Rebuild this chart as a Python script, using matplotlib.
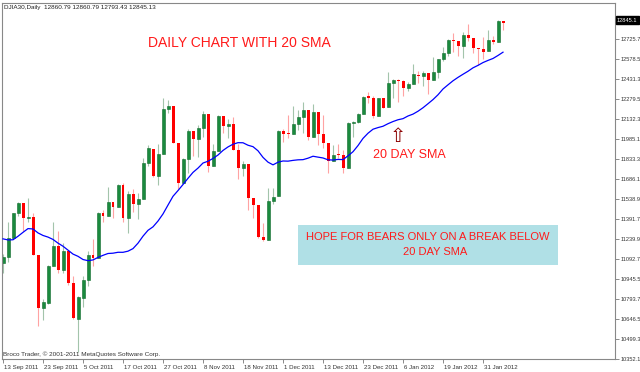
import numpy as np
import matplotlib
matplotlib.use('Agg')
import matplotlib.pyplot as plt
import matplotlib.transforms as mtransforms
from matplotlib.patches import Rectangle

plt.rcParams['font.family'] = ['Liberation Sans', 'DejaVu Sans']

# DJIA30 daily bars, 13 Sep 2011 - 6 Feb 2012
opens = [11061, 11106, 11247, 11433, 11509, 11401, 11409, 11120, 10733, 10771,
         11044, 11190, 11011, 11154, 10913, 10650, 10808, 10940, 11123, 11103,
         11433, 11416, 11518, 11478, 11644, 11397, 11577, 11505, 11542, 11809,
         11913, 11707, 11870, 12208, 12231, 11955, 11658, 11836, 12044, 11983,
         12068, 12169, 11781, 11894, 12153, 12079, 12096, 11906, 11771, 11796,
         11547, 11493, 11257, 11232, 11523, 11559, 12045, 12020, 12020, 12097,
         12150, 12196, 11998, 12184, 12021, 11954, 11823, 11868, 11866, 11769,
         12103, 12108, 12169, 12294, 12291, 12151, 12287, 12221, 12397, 12420,
         12415, 12360, 12393, 12462, 12449, 12471, 12422, 12482, 12579, 12624,
         12720, 12709, 12676, 12757, 12735, 12660, 12654, 12633, 12716, 12705,
         12860.79]
highs = [11130, 11370, 11436, 11520, 11510, 11550, 11436, 11125, 10800, 11050,
         11365, 11300, 11210, 11154, 10970, 10820, 10965, 11150, 11240, 11440,
         11460, 11630, 11520, 11650, 11660, 11600, 11610, 11580, 11840, 11940,
         11913, 11950, 12285, 12275, 12231, 11955, 11840, 12060, 12044, 12090,
         12190, 12169, 11950, 12160, 12153, 12130, 12150, 11950, 11820, 11796,
         11550, 11493, 11360, 11620, 11620, 12050, 12060, 12160, 12230, 12200,
         12260, 12196, 12240, 12184, 12160, 11954, 11940, 11950, 11900, 12110,
         12115, 12180, 12300, 12330, 12300, 12290, 12290, 12480, 12430, 12430,
         12420, 12410, 12540, 12490, 12490, 12471, 12590, 12580, 12670, 12725,
         12770, 12709, 12780, 12840, 12735, 12660, 12740, 12790, 12750, 12870,
         12860.79]
lows = [10990, 11070, 11240, 11410, 11300, 11370, 11120, 10597, 10640, 10760,
        11040, 10990, 10990, 10900, 10650, 10404, 10740, 10890, 11040, 11103,
        11370, 11416, 11400, 11478, 11370, 11290, 11440, 11390, 11542, 11780,
        11700, 11640, 11870, 12176, 11955, 11610, 11658, 11730, 11860, 11850,
        12000, 11740, 11781, 11894, 12030, 11990, 11900, 11690, 11710, 11460,
        11400, 11250, 11230, 11232, 11500, 11559, 11960, 11990, 12020, 12050,
        12030, 11980, 11998, 11940, 11920, 11730, 11823, 11840, 11735, 11769,
        12000, 12100, 12169, 12250, 12140, 12151, 12217, 12221, 12290, 12260,
        12300, 12340, 12393, 12400, 12380, 12320, 12422, 12440, 12560, 12600,
        12630, 12600, 12585, 12710, 12620, 12530, 12580, 12633, 12690, 12705,
        12793.43]
closes = [11105.85, 11246.73, 11433.18, 11509.09, 11401.01, 11408.66, 11124.84, 10733.83, 10771.48, 11043.86,
          11190.69, 11010.90, 11153.98, 10913.38, 10655.30, 10808.71, 10939.95, 11123.33, 11103.12, 11433.18,
          11416.30, 11518.85, 11478.13, 11644.49, 11397.00, 11577.05, 11504.62, 11541.78, 11808.79, 11913.62,
          11706.62, 11869.04, 12208.55, 12231.11, 11955.01, 11657.96, 11836.04, 12044.47, 11983.24, 12068.39,
          12170.18, 11780.94, 11893.86, 12153.68, 12078.98, 12096.16, 11905.59, 11770.73, 11796.16, 11547.31,
          11493.72, 11257.55, 11231.78, 11523.01, 11555.63, 12045.68, 12020.03, 12019.42, 12097.83, 12150.13,
          12196.37, 11997.70, 12184.26, 12021.39, 11954.94, 11823.48, 11868.81, 11866.39, 11766.26, 12103.58,
          12107.74, 12169.65, 12294.00, 12291.35, 12151.41, 12287.04, 12217.56, 12397.38, 12418.42, 12415.70,
          12359.92, 12392.69, 12462.47, 12449.45, 12471.02, 12422.06, 12482.07, 12578.95, 12623.98, 12720.48,
          12708.82, 12675.75, 12756.96, 12734.63, 12660.46, 12653.72, 12632.91, 12716.46, 12705.41, 12862.23,
          12845.13]
# closes of the 19 sessions before 13 Sep (for the 20 SMA)
prior_closes = [11405.93, 11410.21, 10990.58, 10817.65, 10854.65, 11176.76, 11320.71, 11149.82, 11284.54, 11539.25,
                11559.95, 11613.53, 11493.57, 11240.26, 11139.30, 11414.86, 11295.81, 10992.13, 11061.12]

xtick_labels = ['13 Sep 2011', '23 Sep 2011', '5 Oct 2011', '17 Oct 2011', '27 Oct 2011', '8 Nov 2011',
                '18 Nov 2011', '1 Dec 2011', '13 Dec 2011', '23 Dec 2011', '6 Jan 2012', '19 Jan 2012', '31 Jan 2012']
ytick_vals = [10352.1, 10499.3, 10646.5, 10793.7, 10945.5, 11092.7, 11239.9, 11391.7, 11538.9,
              11686.1, 11833.3, 11985.1, 12132.3, 12279.5, 12431.3, 12578.5, 12725.7]

o = np.array(opens)
h = np.array(highs)
l = np.array(lows)
c = np.array(closes)
x = np.arange(len(c))
up = c >= o

allc = np.array(prior_closes + closes)
sma = np.convolve(allc, np.ones(20) / 20, mode='valid')

W, H = 640, 372
fig = plt.figure(figsize=(6.4, 3.72), dpi=100)
ax = fig.add_axes([2 / W, 1 - 359 / H, 613 / W, 356 / H])

def px(xp, yp):
    return xp / W, 1 - yp / H

# wicks
ax.vlines(x[up], l[up], h[up], color='#a3c4ab', lw=0.8, zorder=1)
ax.vlines(x[~up], l[~up], h[~up], color='#ffa3a3', lw=0.8, zorder=1)
# bodies
body = np.maximum(np.abs(c - o), 8)
bottom = np.minimum(o, c)
ax.bar(x[up], body[up], bottom=bottom[up], width=0.6, color='#1a8a3e', edgecolor='#0f6a2c', lw=0.4, zorder=2)
ax.bar(x[~up], body[~up], bottom=bottom[~up], width=0.6, color='#ff0000', lw=0, zorder=2)
# 20 SMA
ax.plot(x, sma, color='#0000ff', lw=0.9, zorder=3)

ax.set_xlim(-0.2, 122.4)
ax.set_ylim(10352.1, 12992.7)

for s in ax.spines.values():
    s.set_color('#888888')
    s.set_linewidth(0.8)

ax.yaxis.tick_right()
ax.set_yticks(ytick_vals)
ax.set_yticklabels(['%.1f' % v for v in ytick_vals])
ax.tick_params(axis='y', direction='out', length=3, width=0.6, color='#777777',
               labelsize=4.1, labelcolor='#333333', pad=1)

ax.set_xticks(np.arange(len(xtick_labels)) * 8)
ax.set_xticklabels(xtick_labels)
ax.tick_params(axis='x', direction='out', length=3, width=0.6, color='#777777',
               labelsize=4.4, labelcolor='#333333', pad=1)
offset = mtransforms.ScaledTranslation(1.5 / 100, 0, fig.dpi_scale_trans)
for lab in ax.get_xticklabels():
    lab.set_horizontalalignment('left')
    lab.set_transform(lab.get_transform() + offset)

# header and footer text
fig.text(*px(4, 8), 'DJIA30,Daily  12860.79 12860.79 12793.43 12845.13', fontsize=4.6,
         color='#222222', va='center', ha='left')
fig.text(*px(3, 354), 'Broco Trader, \u00a9 2001-2011 MetaQuotes Software Corp.', fontsize=4.6,
         color='#333333', va='center', ha='left')

# current price marker
fig.text(*px(617, 20), '12845.1', fontsize=4.1, color='white', va='center', ha='left',
         bbox=dict(facecolor='black', edgecolor='black', pad=0.8))

# annotations
fig.text(*px(239, 43), 'DAILY CHART WITH 20 SMA', fontsize=10, color='#ff1a1a', ha='center', va='center')
fig.text(*px(398, 136), '\u21e7', fontsize=14, color='#8b0000', ha='center', va='center', family='DejaVu Sans')
fig.text(*px(409, 155), '20 DAY SMA', fontsize=9, color='#ff1a1a', ha='center', va='center')

box = Rectangle(px(298, 265), 260 / W, 40 / H, transform=fig.transFigure,
                facecolor='#b0e0e6', edgecolor='none', zorder=5)
fig.add_artist(box)
fig.text(*px(428, 237), 'HOPE FOR BEARS ONLY ON A BREAK BELOW', fontsize=8, color='#ff1a1a',
         ha='center', va='center', zorder=6)
fig.text(*px(435, 252), '20 DAY SMA', fontsize=8, color='#ff1a1a', ha='center', va='center', zorder=6)

plt.savefig('out.png', dpi=100)
